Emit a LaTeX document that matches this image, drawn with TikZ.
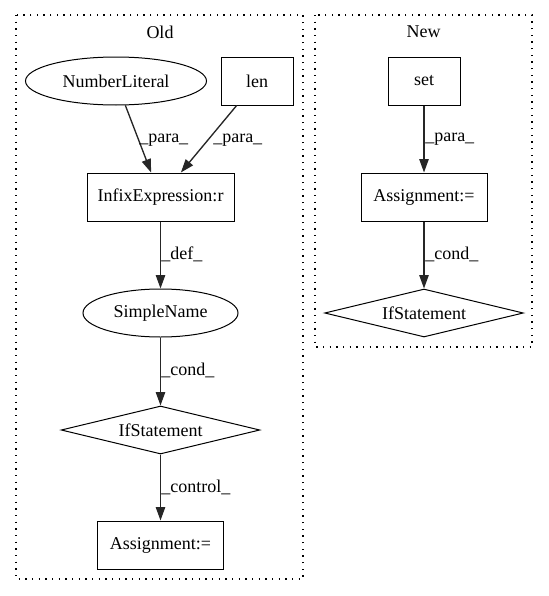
\documentclass[tikz,border=0pt]{standalone}
\usepackage{fontspec}
\setmainfont{Liberation Serif}
\usetikzlibrary{shapes.geometric,arrows.meta}
\begin{document}
\begin{tikzpicture}[x=0.75pt,y=-0.75pt,
  every node/.style={font=\fontsize{13.5pt}{16pt}\selectfont, inner sep=0pt},
  boxnode/.style={draw, line width=0.75pt, rectangle, minimum height=36pt},
  ellnode/.style={draw, line width=0.75pt, ellipse, minimum height=36pt},
  dianode/.style={draw, line width=0.75pt, diamond, shape aspect=4.15, minimum height=36pt, minimum width=149pt},
  flow/.style={-{Triangle[length=10pt,width=7pt]}, line width=1pt, draw=black!85, fill=black},
  elabel/.style={anchor=west},
  cluster/.style={draw, line width=0.9pt, dash pattern=on 1pt off 4pt}]
\useasboundingbox (0,0) rectangle (549,596);
\draw[cluster] (16,15) rectangle (303,579);
\draw[cluster] (315,15) rectangle (532,347);
\node (oldlbl) at (160,32) {Old};
\node (newlbl) at (423.5,32) {New};

\node[ellnode, minimum width=135.75pt] (nl) at (116,81) {NumberLiteral};
\node[boxnode, minimum width=54pt] (len) at (257,81) {len};
\node[boxnode, minimum width=110.25pt] (ie) at (160.5,197) {InfixExpression:r};
\node[ellnode, minimum width=116.25pt] (sn) at (160.5,313) {SimpleName};
\node[dianode] (if1) at (160.5,430) {IfStatement};
\node[boxnode, minimum width=94.5pt] (as1) at (160.5,545) {Assignment:=};

\node[boxnode, minimum width=54pt] (set) at (424,81) {set};
\node[boxnode, minimum width=94.5pt] (as2) at (424,197) {Assignment:=};
\node[dianode] (if2) at (424,313) {IfStatement};

\draw[flow] (nl) -- (ie);
\draw[flow] (len) -- (ie);
\draw[flow] (ie) -- (sn);
\draw[flow] (sn) -- (if1);
\draw[flow] (if1) -- (as1);
\draw[flow] (set) -- (as2);
\draw[flow] (as2) -- (if2);

\node[elabel] (l1) at (139,140) {\_para\_};
\node[elabel] (l2) at (213,140) {\_para\_};
\node[elabel] (l3) at (161,254) {\_def\_};
\node[elabel] (l4) at (161,370) {\_cond\_};
\node[elabel] (l5) at (161,487) {\_control\_};
\node[elabel] (l6) at (425,139) {\_para\_};
\node[elabel] (l7) at (425,254) {\_cond\_};
\end{tikzpicture}
\end{document}
